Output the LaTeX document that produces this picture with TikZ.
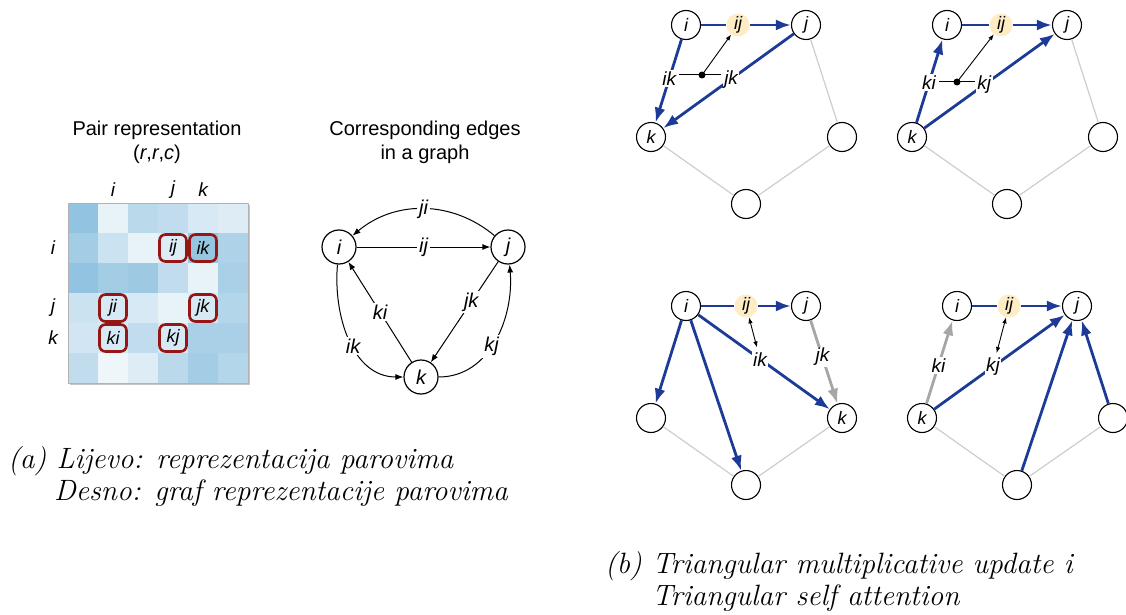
\documentclass[tikz,border=0pt]{standalone}
\usepackage{fontspec}
\newfontfamily\helv{Liberation Sans}
\usetikzlibrary{arrows.meta}
\definecolor{matblue}{RGB}{140,192,222}
\definecolor{boxred}{RGB}{150,22,22}
\definecolor{edgeblue}{RGB}{28,58,150}
\definecolor{pairyellow}{RGB}{253,236,196}
\definecolor{ringgrey}{RGB}{205,205,205}
\definecolor{arrowgrey}{RGB}{166,166,166}

\tikzset{
  title/.style={font=\helv\fontsize{20}{24}\selectfont, align=center},
  caption/.style={font=\itshape\fontsize{29.4}{32}\selectfont, inner sep=0pt},
  idx/.style={font=\helv\itshape\fontsize{19}{22}\selectfont},
  pairbox/.style={draw=boxred, line width=2.6pt, rounded corners=6pt, minimum size=27pt, inner sep=0pt, font=\helv\itshape\fontsize{18}{20}\selectfont},
  vert/.style={circle, draw, line width=1.2pt, minimum size=34pt, inner sep=0pt, fill=white, font=\helv\itshape\fontsize{20}{22}\selectfont},
  edgelbl/.style={fill=white, inner sep=2pt, font=\helv\itshape\fontsize{20}{22}\selectfont},
  thinarrow/.style={line width=1pt, -{Latex[length=8pt,width=6pt]}},
  pnode/.style={circle, draw, line width=1.1pt, minimum size=29pt, inner sep=0pt, fill=white, font=\helv\itshape\fontsize{18}{20}\selectfont},
  pairnode/.style={circle, fill=pairyellow, minimum size=23pt, inner sep=0pt, font=\helv\itshape\fontsize{18}{20}\selectfont},
  plbl/.style={fill=white, text=black, inner sep=1.5pt, font=\helv\itshape\fontsize{19}{21}\selectfont},
  ring/.style={ringgrey, line width=1.2pt},
  updline/.style={edgeblue, line width=2.8pt},
  upd/.style={updline, -{Latex[length=15pt,width=11pt]}},
  updgrey/.style={arrowgrey, line width=2.8pt, -{Latex[length=15pt,width=11pt]}},
  small/.style={line width=0.9pt, -{Latex[length=6pt,width=4.5pt]}},
  smallboth/.style={line width=0.9pt, {Latex[length=6pt,width=4.5pt]}-{Latex[length=6pt,width=4.5pt]}}
}

\begin{document}
\begin{tikzpicture}[x=1pt, y=-1pt]
\useasboundingbox (0,0) rectangle (1126,615);

%pair representation
\node[title] (pairtitle) at (157,142) {Pair representation\\(\textit{r},\textit{r},\textit{c})};
\fill[gray!45] (70,205) rectangle (250,385);
\foreach \vals [count=\r] in {{95,20,60,55,35,30},{80,45,20,30,90,70},{95,80,85,55,20,75},{45,35,35,20,35,65},{40,35,55,35,75,75},{55,15,30,60,80,65}} {
  \foreach \v [count=\c] in \vals {
    \fill[matblue!\v] ({68+30*(\c-1)},{203+30*(\r-1)}) rectangle +(30,30);
  }
}
\draw[gray!60, line width=0.8pt] (68,203) rectangle (248,383);
%indices
\node[idx] (ci) at (113,190) {i};
\node[idx] (cj) at (173,190) {j};
\node[idx] (ck) at (203,190) {k};
\node[idx] (ri) at (53,248) {i};
\node[idx] (rj) at (53,308) {j};
\node[idx] (rk) at (53,338) {k};
%the pairs
\node[pairbox] (m-ij) at (173,248) {ij};
\node[pairbox] (m-ik) at (203,248) {ik};
\node[pairbox] (m-ji) at (113,308) {ji};
\node[pairbox] (m-jk) at (203,308) {jk};
\node[pairbox] (m-ki) at (113,338) {ki};
\node[pairbox] (m-kj) at (173,338) {kj};

%corresponding graph
\node[title] (graphtitle) at (425,142) {Corresponding edges\\in a graph};
\node[vert] (i) at (339,247) {i};
\node[vert] (j) at (508,247) {j};
\node[vert] (k) at (421,377) {k};
\draw[thinarrow] (j) to[bend right=40] node[edgelbl] {ji} (i);
\draw[thinarrow] (i) -- node[edgelbl] {ij} (j);
\draw[thinarrow] (i) to[out=-95, in=180] node[edgelbl, pos=.55] {ik} (k);
\draw[thinarrow] (k) -- node[edgelbl] {ki} (i);
\draw[thinarrow] (j) -- node[edgelbl, pos=.4] {jk} (k);
\draw[thinarrow] (k) to[out=0, in=-85] node[edgelbl, pos=.45] {kj} (j);

%captions
\node[caption, anchor=base west] (capa1) at (8,468) {(a) Lijevo: reprezentacija parovima};
\node[caption, anchor=base west] (capa2) at (54,500) {Desno: graf reprezentacije parovima};
\node[caption, anchor=base west] (capb1) at (605,573) {(b) Triangular multiplicative update i};
\node[caption, anchor=base west] (capb2) at (652,605) {Triangular self attention};

%outgoing edges update
\begin{scope}[shift={(746,103)}]
\node[pnode] (a-i) at (-60,-78) {i};
\node[pnode] (a-j) at (60,-78) {j};
\node[pnode] (a-k) at (-95,34) {k};
\node[pnode] (a-r) at (96,34) {};
\node[pnode] (a-b) at (0,101) {};
\node[pairnode] (a-ij) at (-8,-78) {ij};
\draw[ring] (a-j) -- (a-r);
\draw[ring] (a-r) -- (a-b);
\draw[ring] (a-b) -- (a-k);
\draw[updline] (a-i) -- (a-ij);
\draw[upd] (a-ij) -- (a-j);
\draw[upd] (a-i) -- node[plbl, pos=.47] (a-ik) {ik} (a-k);
\draw[upd] (a-j) -- node[plbl, pos=.48] (a-jk) {jk} (a-k);
\coordinate (a-dot) at (-44,-28);
\draw[line width=1pt] (a-ik.east |- a-dot) -- (a-jk.west |- a-dot);
\fill (a-dot) circle (3.5);
\draw[small] (a-dot) -- (a-ij);
\end{scope}

%incoming edges update
\begin{scope}[shift={(1007,103)}]
\node[pnode] (b-i) at (-60,-78) {i};
\node[pnode] (b-j) at (60,-78) {j};
\node[pnode] (b-k) at (-95,34) {k};
\node[pnode] (b-r) at (96,34) {};
\node[pnode] (b-b) at (0,101) {};
\node[pairnode] (b-ij) at (-6,-78) {ij};
\draw[ring] (b-j) -- (b-r);
\draw[ring] (b-r) -- (b-b);
\draw[ring] (b-b) -- (b-k);
\draw[updline] (b-i) -- (b-ij);
\draw[upd] (b-ij) -- (b-j);
\draw[upd] (b-k) -- node[plbl, pos=.48] (b-ki) {ki} (b-i);
\draw[upd] (b-k) -- node[plbl, pos=.46] (b-kj) {kj} (b-j);
\coordinate (b-dot) at (-50,-21);
\draw[line width=1pt] (b-ki.east |- b-dot) -- (b-kj.west |- b-dot);
\fill (b-dot) circle (3.5);
\draw[small] (b-dot) -- (b-ij);
\end{scope}

%starting node attention
\begin{scope}[shift={(746,384)}]
\node[pnode] (c-i) at (-60,-78) {i};
\node[pnode] (c-j) at (60,-78) {j};
\node[pnode] (c-l) at (-95,34) {};
\node[pnode] (c-k) at (96,34) {k};
\node[pnode] (c-b) at (0,101) {};
\node[pairnode] (c-ij) at (0,-78) {ij};
\draw[ring] (c-l) -- (c-b);
\draw[ring] (c-b) -- (c-k);
\draw[updline] (c-i) -- (c-ij);
\draw[upd] (c-ij) -- (c-j);
\draw[upd] (c-i) -- (c-l);
\draw[upd] (c-i) -- (c-b);
\draw[upd] (c-i) -- node[plbl, pos=.47] (c-ik) {ik} (c-k);
\draw[updgrey] (c-j) -- node[plbl, pos=.44] (c-jk) {jk} (c-k);
\draw[smallboth, shorten >=2pt] (c-ij) -- (c-ik);
\end{scope}

%ending node attention
\begin{scope}[shift={(1017,384)}]
\node[pnode] (d-i) at (-60,-78) {i};
\node[pnode] (d-j) at (60,-78) {j};
\node[pnode] (d-k) at (-95,34) {k};
\node[pnode] (d-r) at (96,34) {};
\node[pnode] (d-b) at (0,101) {};
\node[pairnode] (d-ij) at (-8,-78) {ij};
\draw[ring] (d-k) -- (d-b);
\draw[ring] (d-b) -- (d-r);
\draw[updline] (d-i) -- (d-ij);
\draw[upd] (d-ij) -- (d-j);
\draw[upd] (d-b) -- (d-j);
\draw[upd] (d-r) -- (d-j);
\draw[upd] (d-k) -- node[plbl, pos=.45] (d-kj) {kj} (d-j);
\draw[updgrey] (d-k) -- node[plbl, pos=.46] (d-ki) {ki} (d-i);
\draw[smallboth, shorten >=2pt] (d-ij) -- (d-kj);
\end{scope}
\end{tikzpicture}
\end{document}
